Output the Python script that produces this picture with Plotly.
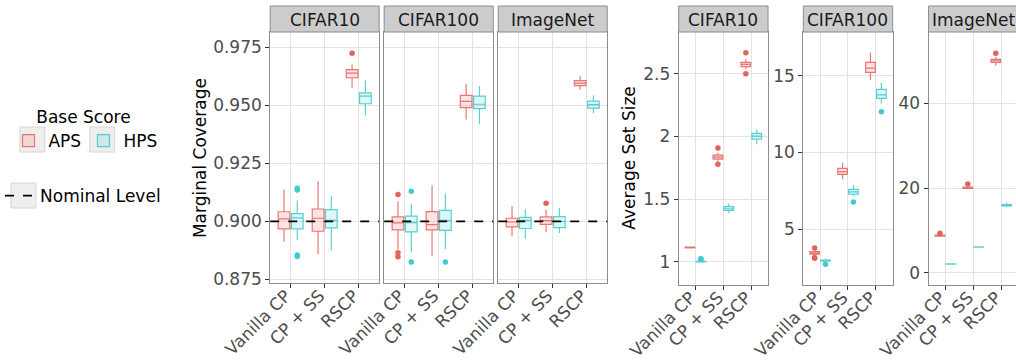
import plotly.graph_objects as go

# ---------------- data ----------------
METHODS = ["Vanilla CP", "CP + SS", "RSCP"]
DATASETS = ["CIFAR10", "CIFAR100", "ImageNet"]
SCORES = ["APS", "HPS"]
NOMINAL = 0.9

# Marginal coverage (box statistics per method)
COV_CIFAR10_APS = dict(lower=[0.8912, 0.8859, 0.9575], q1=[0.8967, 0.8957, 0.9618],
                       median=[0.9010, 0.9013, 0.9638], q3=[0.9041, 0.9053, 0.9653],
                       upper=[0.9137, 0.9172, 0.9675], out=[[], [], [0.9724]])
COV_CIFAR10_HPS = dict(lower=[0.8921, 0.8875, 0.9456], q1=[0.8967, 0.8972, 0.9506],
                       median=[0.9015, 0.9004, 0.9539], q3=[0.9033, 0.9050, 0.9553],
                       upper=[0.9089, 0.9108, 0.9606], out=[[0.9135, 0.9142, 0.8855, 0.8848], [], []])
COV_CIFAR100_APS = dict(lower=[0.8878, 0.8852, 0.9438], q1=[0.8963, 0.8963, 0.9489],
                        median=[0.8993, 0.8986, 0.9516], q3=[0.9019, 0.9042, 0.9542],
                        upper=[0.9086, 0.9155, 0.9592], out=[[0.9115, 0.8864, 0.8847], [], []])
COV_CIFAR100_HPS = dict(lower=[0.8866, 0.8881, 0.9418], q1=[0.8954, 0.8961, 0.9485],
                        median=[0.8994, 0.9004, 0.9504], q3=[0.9022, 0.9047, 0.9539],
                        upper=[0.9076, 0.9119, 0.9582], out=[[0.9129, 0.8825], [0.8825], []])
COV_IMAGENET_APS = dict(lower=[0.8937, 0.8953, 0.9566], q1=[0.8976, 0.8987, 0.9584],
                        median=[0.8997, 0.9003, 0.9595], q3=[0.9013, 0.9019, 0.9606],
                        upper=[0.9065, 0.9050, 0.9624], out=[[], [0.9078], []])
COV_IMAGENET_HPS = dict(lower=[0.8924, 0.8950, 0.9466], q1=[0.8969, 0.8973, 0.9487],
                        median=[0.9004, 0.8999, 0.9502], q3=[0.9017, 0.9020, 0.9517],
                        upper=[0.9053, 0.9058, 0.9542], out=[[], [], []])

# Average set size (box statistics per method)
SIZE_CIFAR10_APS = dict(lower=[1.105, 1.800, 2.539], q1=[1.110, 1.820, 2.558],
                        median=[1.113, 1.836, 2.577], q3=[1.116, 1.852, 2.593],
                        upper=[1.121, 1.870, 2.617], out=[[], [1.908, 1.778], [2.669, 2.502]])
SIZE_CIFAR10_HPS = dict(lower=[0.996, 1.387, 1.938], q1=[0.998, 1.410, 1.980],
                        median=[1.000, 1.423, 2.004], q3=[1.003, 1.440, 2.026],
                        upper=[1.010, 1.466, 2.057], out=[[1.020, 1.024], [], []])
SIZE_CIFAR100_APS = dict(lower=[3.25, 8.26, 14.72], q1=[3.38, 8.58, 15.22],
                         median=[3.45, 8.75, 15.50], q3=[3.55, 8.97, 15.87],
                         upper=[3.68, 9.34, 16.50], out=[[3.78, 3.12, 3.16], [], []])
SIZE_CIFAR100_HPS = dict(lower=[2.88, 7.17, 13.20], q1=[2.92, 7.28, 13.53],
                         median=[2.96, 7.43, 13.76], q3=[3.00, 7.60, 14.11],
                         upper=[3.10, 7.86, 14.54], out=[[2.72], [6.78], [12.66]])
SIZE_IMAGENET_APS = dict(lower=[8.50, 19.70, 48.87], q1=[8.62, 19.92, 49.67],
                         median=[8.74, 20.07, 50.05], q3=[8.86, 20.20, 50.38],
                         upper=[9.05, 20.45, 51.00], out=[[9.30], [20.94], [51.80]])
SIZE_IMAGENET_HPS = dict(lower=[1.98, 5.98, 15.45], q1=[2.01, 6.03, 15.75],
                         median=[2.05, 6.07, 15.91], q3=[2.09, 6.11, 16.08],
                         upper=[2.12, 6.16, 16.50], out=[[], [], []])

COV_TICKS = [0.875, 0.900, 0.925, 0.950, 0.975]
SIZE_TICKS = {"CIFAR10": [1, 1.5, 2, 2.5], "CIFAR100": [5, 10, 15], "ImageNet": [0, 20, 40]}

# ---------------- style ----------------
W, H = 1016, 360
FONT = "DejaVu Sans"
LINE = {"APS": "rgba(230,95,92,0.85)", "HPS": "rgba(60,200,205,0.85)"}
FILL = {"APS": "rgba(248,118,109,0.20)", "HPS": "rgba(0,191,196,0.13)"}
PT = {"APS": "#E3625C", "HPS": "#3FCBCF"}
GAP = 0.22

cov = {"CIFAR10": {"APS": COV_CIFAR10_APS, "HPS": COV_CIFAR10_HPS},
       "CIFAR100": {"APS": COV_CIFAR100_APS, "HPS": COV_CIFAR100_HPS},
       "ImageNet": {"APS": COV_IMAGENET_APS, "HPS": COV_IMAGENET_HPS}}
size = {"CIFAR10": {"APS": SIZE_CIFAR10_APS, "HPS": SIZE_CIFAR10_HPS},
        "CIFAR100": {"APS": SIZE_CIFAR100_APS, "HPS": SIZE_CIFAR100_HPS},
        "ImageNet": {"APS": SIZE_IMAGENET_APS, "HPS": SIZE_IMAGENET_HPS}}

# panel pixel boxes (left, right)
COV_X = [(268, 377.3), (382.3, 491.7), (496.7, 606)]
SIZE_X = [(677.7, 767.3), (802.7, 892.3), (928.3, 1018)]
TOP = 32
COV_BOTTOM = 283.3
SIZE_BOTTOM = 285
STRIP_TOP = 6
COV_RANGE = [0.8733, 0.9815]
SIZE_RANGE = {"CIFAR10": [0.814, 2.835], "CIFAR100": [1.37, 17.85], "ImageNet": [-2.9, 56.84]}
# legend key backgrounds (left, top) in pixels, 25 px squares
KEY_BOXES = [(17, 127), (87, 127), (8, 183)]

fig = go.Figure()


def add_boxes(stats, xa, ya, show):
    for s in SCORES:
        d = stats[s]
        fig.add_trace(go.Box(
            name=s, legendgroup=s, showlegend=show, legend="legend",
            x=METHODS, q1=d["q1"], median=d["median"], q3=d["q3"],
            lowerfence=d["lower"], upperfence=d["upper"],
            boxpoints=False, offsetgroup=s,
            line=dict(color=LINE[s], width=1.2), fillcolor=FILL[s],
            whiskerwidth=0, xaxis=xa, yaxis=ya, hoverinfo="skip"))
    for s in SCORES:
        d = stats[s]
        ox = [METHODS[j] for j, lst in enumerate(d["out"]) for _ in lst]
        oy = [v for lst in d["out"] for v in lst]
        fig.add_trace(go.Scatter(
            x=ox, y=oy, mode="markers", offsetgroup=s, legendgroup=s, showlegend=False,
            marker=dict(color=PT[s], size=5.5, line=dict(width=0)),
            xaxis=xa, yaxis=ya, hoverinfo="skip"))


for i, ds in enumerate(DATASETS):
    add_boxes(cov[ds], "x" if i == 0 else f"x{i+1}", "y" if i == 0 else f"y{i+1}", i == 0)
    add_boxes(size[ds], f"x{i+4}", f"y{i+4}", False)

axis_common = dict(showline=True, mirror=True, linecolor="#8C8C8C", linewidth=1,
                   showgrid=True, gridcolor="#E3E3E3", gridwidth=1.3, zeroline=False,
                   ticks="outside", ticklen=4, tickcolor="#333333", automargin=False,
                   tickfont=dict(family=FONT, size=17, color="#4D4D4D"))
xaxis_extra = dict(type="category", categoryorder="array", categoryarray=METHODS,
                   tickangle=-45, ticklabelstandoff=-9, ticklabelshift=-5)

layout = {}
shapes = []
annotations = []


def px_x(v):
    return v / W


def px_y(v):
    return 1 - v / H


def strip(l, r, text):
    shapes.append(dict(type="rect", xref="paper", yref="paper", x0=px_x(l), x1=px_x(r),
                       y0=px_y(TOP), y1=px_y(STRIP_TOP), fillcolor="#CCCCCC",
                       line=dict(color="#8C8C8C", width=1), layer="above"))
    annotations.append(dict(text=text, x=px_x((l + r) / 2), y=px_y((TOP + STRIP_TOP) / 2 + 0.5),
                            xref="paper", yref="paper", showarrow=False,
                            xanchor="center", yanchor="middle",
                            font=dict(family=FONT, size=17, color="#1A1A1A")))


for i, ds in enumerate(DATASETS):
    # coverage panels
    suf = "" if i == 0 else str(i + 1)
    l, r = COV_X[i]
    layout[f"xaxis{suf}"] = dict(axis_common, **xaxis_extra, range=[-0.6, 2.6],
                                 domain=[px_x(l), px_x(r)], anchor=f"y{suf}")
    ycfg = dict(axis_common, range=COV_RANGE, tickvals=COV_TICKS, tickformat=".3f",
                domain=[px_y(COV_BOTTOM), px_y(TOP)], anchor=f"x{suf}")
    if i > 0:
        ycfg.update(showticklabels=False, ticks="", matches="y")
    layout[f"yaxis{suf}"] = ycfg
    strip(l, r, ds)
    shapes.append(dict(type="line", xref=f"x{suf} domain", yref=f"y{suf}", x0=0, x1=1,
                       y0=NOMINAL, y1=NOMINAL, line=dict(color="black", width=1.8, dash="dash"),
                       name="Nominal Level", showlegend=(i == 0), legend="legend2",
                       layer="above"))

    # set-size panels
    k = i + 4
    l, r = SIZE_X[i]
    span = (min(r, W) - l) / ((r - l) / 3.2)
    layout[f"xaxis{k}"] = dict(axis_common, **xaxis_extra, range=[-0.6, -0.6 + span],
                               domain=[px_x(l), min(1.0, px_x(r))], anchor=f"y{k}")
    layout[f"yaxis{k}"] = dict(axis_common, range=SIZE_RANGE[ds], tickvals=SIZE_TICKS[ds],
                               ticktext=[f"{v:g}" for v in SIZE_TICKS[ds]],
                               domain=[px_y(SIZE_BOTTOM), px_y(TOP)], anchor=f"x{k}")
    strip(l, r, ds)

# grey legend-key backgrounds (ggplot style)
for kx, ky in KEY_BOXES:
    shapes.append(dict(type="rect", xref="paper", yref="paper", x0=px_x(kx), x1=px_x(kx + 25),
                       y0=px_y(ky + 25), y1=px_y(ky), fillcolor="#EEEEEE",
                       line=dict(color="#D6D6D6", width=1), layer="below"))

# axis titles
annotations.append(dict(text="Marginal Coverage", x=px_x(197), y=px_y((TOP + COV_BOTTOM) / 2),
                        xref="paper", yref="paper", showarrow=False, textangle=-90,
                        xanchor="center", yanchor="middle",
                        font=dict(family=FONT, size=17, color="#000000")))
annotations.append(dict(text="Average Set Size", x=px_x(627), y=px_y((TOP + SIZE_BOTTOM) / 2),
                        xref="paper", yref="paper", showarrow=False, textangle=-90,
                        xanchor="center", yanchor="middle",
                        font=dict(family=FONT, size=17, color="#000000")))

fig.update_layout(
    width=W, height=H, margin=dict(l=0, r=0, t=0, b=0),
    paper_bgcolor="white", plot_bgcolor="white",
    font=dict(family=FONT, size=17, color="#000000"),
    boxmode="group", boxgap=GAP, boxgroupgap=0.12,
    scattermode="group", scattergap=GAP,
    shapes=shapes, annotations=annotations,
    legend=dict(orientation="h", x=px_x(5.5), y=px_y(101), xanchor="left", yanchor="top",
                title=dict(text="Base Score", side="top center",
                           font=dict(family=FONT, size=17)),
                font=dict(family=FONT, size=17), itemwidth=30, bgcolor="rgba(0,0,0,0)",
                entrywidth=30, entrywidthmode="pixels", tracegroupgap=0),
    legend2=dict(x=px_x(-3), y=px_y(178), xanchor="left", yanchor="top",
                 font=dict(family=FONT, size=17), itemwidth=30, bgcolor="rgba(0,0,0,0)"),
    **layout,
)

fig.write_html("out.html")
